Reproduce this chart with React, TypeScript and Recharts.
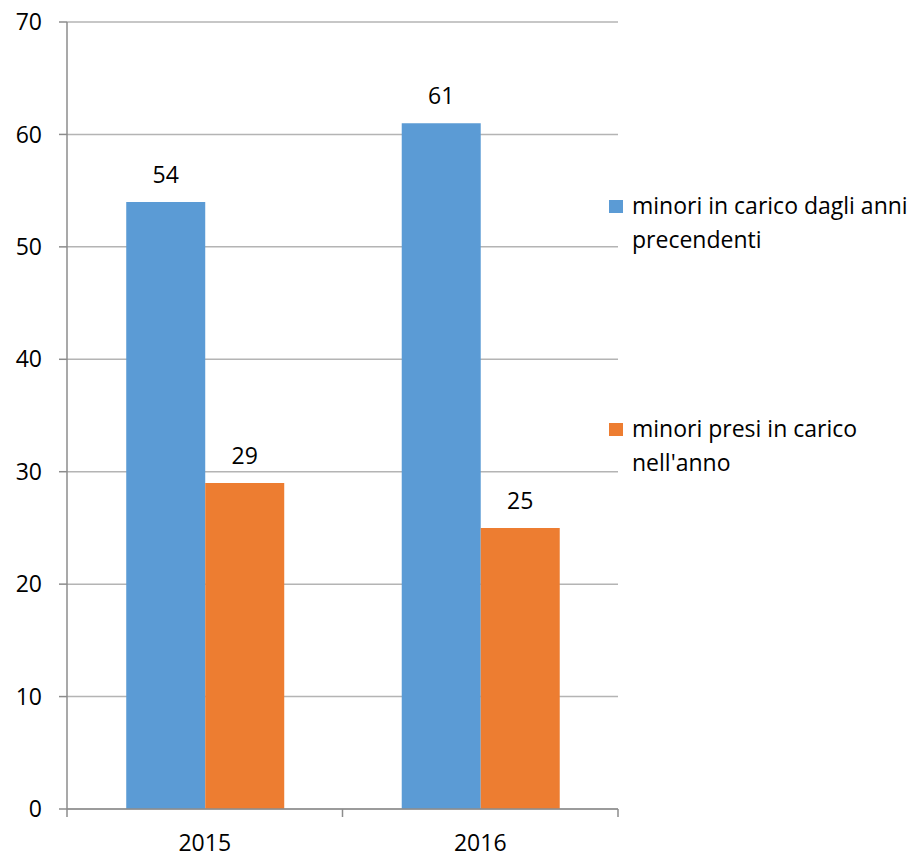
import { BarChart, Bar, XAxis, YAxis, CartesianGrid, LabelList } from 'recharts'

const years = ['2015', '2016']
const carryOver = [54, 61]
const newCases = [29, 25]
const seriesNames = ['minori in carico dagli anni precendenti', "minori presi in carico nell'anno"]
const seriesColors = ['#5b9bd5', '#ed7d31']
const yTicks = [0, 10, 20, 30, 40, 50, 60, 70]

const font = '"Open Sans", sans-serif'
const fs = 23
const axisColor = '#8c8c8c'
const xTickMargin = 18

const data = years.map((year, i) => ({
  year,
  a: carryOver[i],
  b: newCases[i],
}))

// category label plus tick marks on the category edges (Excel style)
function YearTick(props: any) {
  const { x, y, payload, index, visibleTicksCount } = props
  const half = payload.offset || 0
  const top = y - xTickMargin - 8
  const last = index === visibleTicksCount - 1
  return (
    <g>
      <line x1={x - half} x2={x - half} y1={top} y2={top + 8} stroke={axisColor} strokeWidth={1.5} />
      {last && <line x1={x + half} x2={x + half} y1={top} y2={top + 8} stroke={axisColor} strokeWidth={1.5} />}
      <text x={x} y={y} dy="0.71em" textAnchor="middle" fontSize={fs} fill="#000" fontFamily={font}>
        {payload.value}
      </text>
    </g>
  )
}

export default function App() {
  return (
    <div style={{ position: 'relative', width: 916, height: 857, fontFamily: font }}>
      <style>{'body{margin:0}'}</style>
      <BarChart
        width={916}
        height={857}
        data={data}
        margin={{ top: 22, right: 298, bottom: 18, left: 0 }}
        barCategoryGap="21.5%"
        barGap={0}
      >
        <CartesianGrid vertical={false} stroke="#b4b4b4" strokeWidth={1.5} />
        <XAxis
          dataKey="year"
          height={30}
          axisLine={{ stroke: axisColor, strokeWidth: 1.5 }}
          tickLine={false}
          tickSize={8}
          tickMargin={xTickMargin}
          tick={<YearTick />}
        />
        <YAxis
          width={67}
          domain={[0, 70]}
          ticks={yTicks}
          axisLine={{ stroke: axisColor, strokeWidth: 1.5 }}
          tickLine={{ stroke: axisColor, strokeWidth: 1.5 }}
          tickSize={8}
          tickMargin={17}
          tick={{ fontSize: fs, fill: '#000', fontFamily: font }}
        />
        <Bar dataKey="a" name={seriesNames[0]} fill={seriesColors[0]} isAnimationActive={false}>
          <LabelList dataKey="a" position="top" offset={19} fill="#000" fontSize={fs} fontFamily={font} />
        </Bar>
        <Bar dataKey="b" name={seriesNames[1]} fill={seriesColors[1]} isAnimationActive={false}>
          <LabelList dataKey="b" position="top" offset={19} fill="#000" fontSize={fs} fontFamily={font} />
        </Bar>
      </BarChart>
      <div style={{ position: 'absolute', left: 609, top: 188, width: 307, fontSize: fs, lineHeight: '34px', color: '#000' }}>
        {seriesNames.map((name, i) => (
          <div key={name} style={{ display: 'flex', alignItems: 'flex-start', marginBottom: i === 0 ? 155 : 0 }}>
            <span
              style={{ width: 14, height: 13, background: seriesColors[i], marginTop: 12, marginRight: 9, flex: 'none' }}
            />
            <span style={{ width: 284 }}>{name}</span>
          </div>
        ))}
      </div>
    </div>
  )
}
